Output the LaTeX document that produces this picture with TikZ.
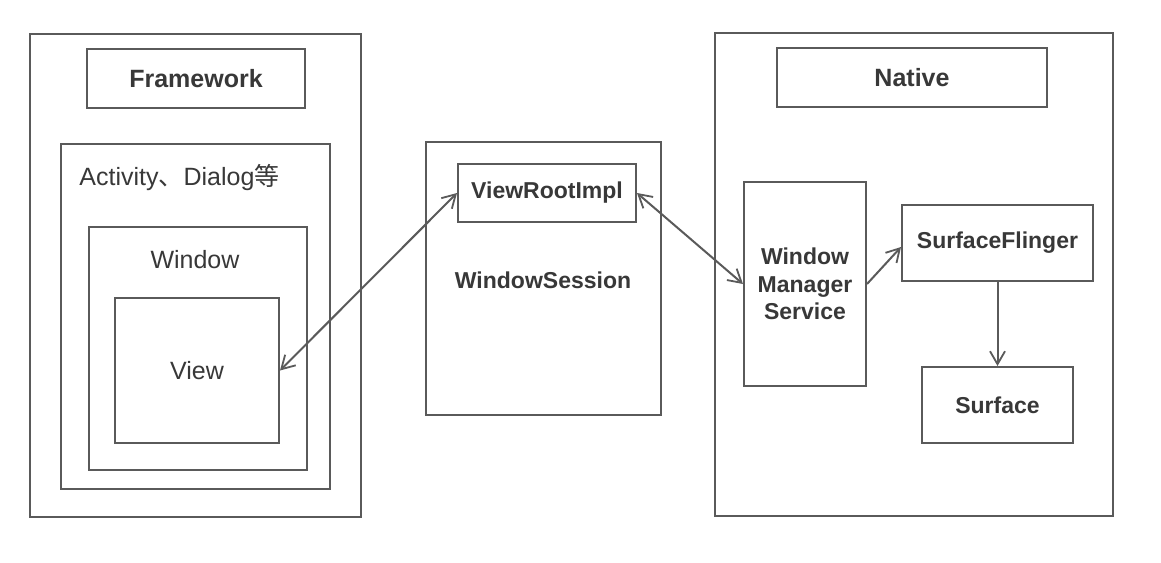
\documentclass[tikz,border=0pt]{standalone}
\usepackage{fontspec}
\setmainfont{Liberation Sans}
\newfontfamily\cjk{Noto Sans CJK SC}
\usetikzlibrary{arrows.meta}
\definecolor{linec}{HTML}{5A5A5A}
\definecolor{textc}{HTML}{383838}
\tikzset{
  box/.style={draw=linec, line width=1pt, rectangle, inner sep=0pt, text=textc},
  bold/.style={font=\fontsize{11.5}{14}\selectfont\bfseries},
  reg/.style={font=\fontsize{12.5}{15}\selectfont, text=textc},
  conn/.style={draw=linec, line width=1pt, arrows={-Straight Barb[length=6.5pt,width=7.5pt,line width=0.9pt]}},
  bconn/.style={draw=linec, line width=1pt, arrows={Straight Barb[length=6.5pt,width=7.5pt,line width=0.9pt]-Straight Barb[length=6.5pt,width=7.5pt,line width=0.9pt]}}
}
\begin{document}
\begin{tikzpicture}[x=0.5pt,y=-0.5pt]
\useasboundingbox[fill=white] (0,0) rectangle (1161,562);
% Framework side
\node[box, minimum width=165.5pt, minimum height=241.5pt] (fw) at (195.5,275.5) {};
\node[box, minimum width=109pt, minimum height=29.5pt, font=\fontsize{12.5}{15}\selectfont\bfseries] (fwlabel) at (196,78.5) {Framework};
\node[box, minimum width=134.5pt, minimum height=172.5pt] (act) at (195.5,316.5) {};
\node[reg, anchor=west, inner sep=0pt] (acttext) at (79,178) {Activity{\cjk 、}Dialog{\cjk 等}};
\node[box, minimum width=109pt, minimum height=121.5pt] (win) at (198,348.5) {};
\node[reg, inner sep=0pt] (wintext) at (195,260) {Window};
\node[box, minimum width=82pt, minimum height=72.5pt, reg] (view) at (197,370.5) {View};
% WindowSession
\node[box, minimum width=117.5pt, minimum height=136.5pt] (ws) at (543.5,278.5) {};
\node[bold, text=textc, inner sep=0pt] (wstext) at (543,280) {WindowSession};
\node[box, minimum width=89pt, minimum height=29pt, bold] (vri) at (547,193) {ViewRootImpl};
% Native side
\node[box, minimum width=199pt, minimum height=241.5pt] (nat) at (914,274.5) {};
\node[box, minimum width=135pt, minimum height=29.5pt, font=\fontsize{12.5}{15}\selectfont\bfseries] (natlabel) at (912,77.5) {Native};
\node[box, minimum width=61pt, minimum height=102pt, align=center, font=\fontsize{11.5}{13.8}\selectfont\bfseries] (wms) at (805,284) {Window\\Manager\\Service};
\node[box, minimum width=95.5pt, minimum height=38pt, bold] (sf) at (997.5,243) {SurfaceFlinger};
\node[box, minimum width=75.5pt, minimum height=38pt, bold] (surf) at (997.5,405) {Surface};
% connectors
\draw[bconn] (vri.west) -- (view.east);
\draw[bconn] (vri.east) -- (wms.west);
\draw[conn] (wms.east) -- ([yshift=-2pt]sf.west);
\draw[conn] (sf.south) -- (surf.north);
\end{tikzpicture}
\end{document}
